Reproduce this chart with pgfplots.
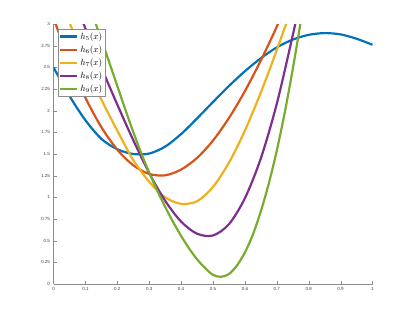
\documentclass[border=0pt]{standalone}
\usepackage{fontspec}
\setmainfont{Liberation Sans}
\usepackage{pgfplots}
\pgfplotsset{compat=1.18}
\definecolor{mblue}{rgb}{0,0.447,0.741}
\definecolor{morange}{rgb}{0.85,0.325,0.098}
\definecolor{myellow}{rgb}{0.929,0.694,0.125}
\definecolor{mpurple}{rgb}{0.494,0.184,0.556}
\definecolor{mgreen}{rgb}{0.466,0.674,0.188}
\begin{document}
\begin{tikzpicture}
\path[use as bounding box] (0,0) rectangle (412bp,319bp);
\begin{axis}[
  at={(53.5bp,35bp)}, anchor=south west,
  width=319bp, height=260bp, scale only axis,
  xmin=0, xmax=1, ymin=0, ymax=3,
  axis x line*=bottom, axis y line*=left,
  xtick={0,0.1,0.2,0.3,0.4,0.5,0.6,0.7,0.8,0.9,1},
  ytick={0,0.25,0.5,0.75,1,1.25,1.5,1.75,2,2.25,2.5,2.75,3},
  tick align=inside, major tick length=3bp,
  tick label style={font=\fontsize{4.5}{5}\selectfont, text=black!75},
  /pgf/number format/assume math mode=true,
  axis line style={black!45}, tick style={black!45},
  legend style={at={(0.014,0.98)}, anchor=north west, draw=black!45,
    font=\fontsize{9}{10}\selectfont, inner sep=1pt, row sep=0.9pt},
  legend cell align=left,
]
\addplot[mblue, line width=2.2pt, smooth] coordinates {(0,2.5)(0.05,2.17)(0.1,1.89)(0.15,1.675)(0.2,1.555)(0.25,1.50)(0.3,1.505)(0.35,1.585)(0.4,1.73)(0.45,1.91)(0.5,2.10)(0.55,2.285)(0.6,2.455)(0.65,2.605)(0.7,2.73)(0.75,2.82)(0.8,2.875)(0.85,2.895)(0.9,2.88)(0.95,2.83)(1,2.76)};
\addlegendentry{$h_5(x)$}
\addplot[morange, line width=2.2pt, smooth] coordinates {(0,3.07)(0.05,2.57)(0.1,2.15)(0.15,1.81)(0.2,1.55)(0.25,1.37)(0.3,1.27)(0.35,1.254)(0.4,1.32)(0.45,1.455)(0.5,1.655)(0.55,1.915)(0.6,2.225)(0.65,2.58)(0.7,2.97)(0.75,3.4)};
\addlegendentry{$h_6(x)$}
\addplot[myellow, line width=2.2pt, smooth] coordinates {(0.05,3.02)(0.1,2.55)(0.15,2.13)(0.2,1.77)(0.25,1.43)(0.3,1.18)(0.35,1.0)(0.4,0.925)(0.45,0.955)(0.5,1.12)(0.55,1.40)(0.6,1.77)(0.65,2.21)(0.7,2.70)(0.75,3.22)};
\addlegendentry{$h_7(x)$}
\addplot[mpurple, line width=2.2pt, smooth] coordinates {(0.05,3.4)(0.1,2.95)(0.15,2.50)(0.2,2.07)(0.25,1.66)(0.3,1.28)(0.35,0.96)(0.4,0.72)(0.45,0.58)(0.5,0.56)(0.55,0.69)(0.6,0.99)(0.65,1.45)(0.7,2.08)(0.75,2.87)(0.8,3.7)};
\addlegendentry{$h_8(x)$}
\addplot[mgreen, line width=2.2pt, smooth] coordinates {(0.1,3.34)(0.125,3.08)(0.15,2.82)(0.175,2.555)(0.2,2.285)(0.225,2.015)(0.25,1.755)(0.275,1.51)(0.3,1.285)(0.325,1.08)(0.35,0.89)(0.375,0.715)(0.4,0.555)(0.425,0.41)(0.45,0.285)(0.475,0.185)(0.5,0.105)(0.525,0.083)(0.55,0.115)(0.575,0.213)(0.6,0.364)(0.625,0.57)(0.65,0.84)(0.675,1.16)(0.7,1.54)(0.725,1.98)(0.75,2.48)(0.775,3.03)(0.8,3.64)};
\addlegendentry{$h_9(x)$}
\end{axis}
\end{tikzpicture}
\end{document}
